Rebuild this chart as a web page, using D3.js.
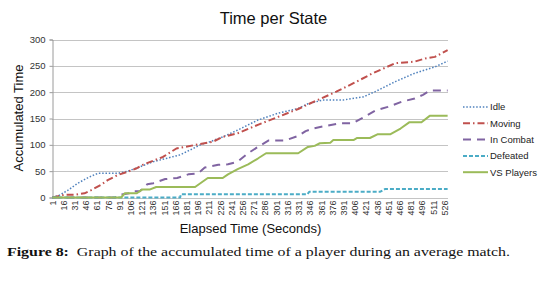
<!DOCTYPE html>
<html>
<head>
<meta charset="utf-8">
<script src="https://cdn.jsdelivr.net/npm/d3@7"></script>
<style>
  body { margin: 0; background: #fff; }
  text { font-family: Arial, "Liberation Sans", sans-serif; }
</style>
</head>
<body>
<div id="chart"></div>
<script>
// values, [elapsed seconds, accumulated time]
const idle = [[1,0],[10,4],[22,14],[35,27],[49,38],[62,46],[89,46],[102,50],[116,57],[136,68],[153,74],[172,81],[185,90],[199,100],[212,106],[229,115],[249,128],[276,147],[303,160],[330,169],[343,178],[363,185],[390,185],[417,191],[433,201],[460,220],[486,236],[513,248],[530,259]];
const moving = [[1,0],[17,5],[31,5],[44,8],[53,14],[66,24],[75,33],[89,43],[102,49],[113,55],[122,62],[149,77],[167,93],[193,100],[216,106],[229,115],[249,122],[276,138],[303,153],[330,168],[345,178],[381,201],[404,217],[430,236],[460,255],[486,258],[500,264],[513,267],[530,280]];
const inCombat = [[1,0],[85,0],[90,5],[104,8],[108,12],[118,12],[122,17],[128,25],[136,27],[152,35],[168,37],[183,44],[196,46],[205,57],[223,62],[236,63],[249,68],[263,84],[276,96],[290,108],[312,108],[330,117],[340,126],[350,131],[367,136],[386,141],[403,141],[417,152],[433,165],[450,172],[469,182],[486,188],[497,195],[506,203],[530,203]];
const defeated = [[1,0],[172,0],[173,6],[342,6],[345,11],[440,11],[446,16],[530,16]];
const vsPlayers = [[1,0],[93,0],[98,8],[114,8],[121,15],[131,15],[140,20],[192,20],[209,37],[229,37],[236,44],[249,54],[263,63],[276,74],[287,84],[330,84],[343,96],[352,98],[359,103],[373,104],[377,109],[404,109],[409,113],[426,113],[436,120],[453,120],[467,131],[479,143],[495,143],[506,155],[530,155]];

const seriesNames = ['Idle', 'Moving', 'In Combat', 'Defeated', 'VS Players'];
const xTickValues = d3.range(1, 527, 15);
const yTickValues = [0, 50, 100, 150, 200, 250, 300];

const seriesStyle = {
  'Idle':       { color: '#4F81BD', width: 1.5, dash: '1.5,1.8' },
  'Moving':     { color: '#C0504D', width: 2,   dash: '7,3,1.5,3' },
  'In Combat':  { color: '#8064A2', width: 2,   dash: '8,6' },
  'Defeated':   { color: '#4BACC6', width: 2,   dash: '4,2' },
  'VS Players': { color: '#9BBB59', width: 2,   dash: null },
};

const series = [idle, moving, inCombat, defeated, vsPlayers]
  .map((values, i) => ({ name: seriesNames[i], values }));

// ------------------------------------------------------------------------
// SIZE
// ------------------------------------------------------------------------
const svgWidth = 547;
const svgHeight = 284;
const leftMargin = 52;
const topMargin = 39.5;
const graphWidth = 396;
const graphHeight = 158;

const svg = d3.select('#chart').append('svg')
  .attr('width', svgWidth)
  .attr('height', svgHeight);

const xScale = d3.scaleLinear()
  .domain([0.5, 530.5])
  .range([leftMargin, leftMargin + graphWidth]);

const yScale = d3.scaleLinear()
  .domain([0, 300])
  .range([topMargin + graphHeight, topMargin]);

// ------------------------------------------------------------------------
// GRID + Y AXIS
// ------------------------------------------------------------------------
svg.append('g')
  .selectAll('line')
  .data(yTickValues)
  .join('line')
    .attr('x1', leftMargin)
    .attr('x2', leftMargin + graphWidth)
    .attr('y1', d => Math.round(yScale(d)) + 0.5)
    .attr('y2', d => Math.round(yScale(d)) + 0.5)
    .attr('stroke', '#c4c4c4')
    .attr('stroke-width', 1);

const yAxis = svg.append('g')
  .attr('transform', `translate(${leftMargin + 0.5},0)`)
  .call(d3.axisLeft(yScale).tickValues(yTickValues).tickSize(3).tickPadding(4));
yAxis.select('.domain').attr('stroke', '#9a9a9a');
yAxis.selectAll('.tick line').attr('stroke', '#9a9a9a');
yAxis.selectAll('.tick text')
  .attr('font-size', 9.5)
  .attr('font-family', 'Arial, "Liberation Sans", sans-serif')
  .attr('fill', '#333');

// ------------------------------------------------------------------------
// X AXIS (rotated labels only)
// ------------------------------------------------------------------------
svg.append('g')
  .selectAll('text')
  .data(xTickValues)
  .join('text')
    .attr('transform', d => `translate(${xScale(d)},${topMargin + graphHeight + 3}) rotate(-90)`)
    .attr('text-anchor', 'end')
    .attr('dy', '0.35em')
    .attr('font-size', 9)
    .attr('fill', '#333')
    .text(d => d);

// ------------------------------------------------------------------------
// LINES
// ------------------------------------------------------------------------
const line = d3.line()
  .x(d => xScale(d[0]))
  .y(d => yScale(d[1]));

svg.append('g')
  .selectAll('path')
  .data(series)
  .join('path')
    .attr('fill', 'none')
    .attr('stroke', d => seriesStyle[d.name].color)
    .attr('stroke-width', d => seriesStyle[d.name].width)
    .attr('stroke-dasharray', d => seriesStyle[d.name].dash)
    .attr('stroke-linejoin', 'round')
    .attr('d', d => line(d.values));

// ------------------------------------------------------------------------
// LEGEND
// ------------------------------------------------------------------------
const legend = svg.append('g')
  .attr('transform', 'translate(463,107)')
  .selectAll('g')
  .data(series)
  .join('g')
    .attr('transform', (d, i) => `translate(0,${i * 16.3})`);
legend.append('line')
  .attr('x1', 0)
  .attr('x2', 25)
  .attr('stroke', d => seriesStyle[d.name].color)
  .attr('stroke-width', d => seriesStyle[d.name].width)
  .attr('stroke-dasharray', d => seriesStyle[d.name].dash);
legend.append('text')
  .attr('x', 27)
  .attr('dy', '0.35em')
  .attr('font-size', 9.5)
  .attr('fill', '#222')
  .text(d => d.name);

// ------------------------------------------------------------------------
// TITLES
// ------------------------------------------------------------------------
svg.append('text')
  .attr('x', 273.5)
  .attr('y', 24)
  .attr('text-anchor', 'middle')
  .attr('font-size', 16.5)
  .attr('fill', '#111')
  .text('Time per State');

svg.append('text')
  .attr('transform', 'translate(23,118) rotate(-90)')
  .attr('text-anchor', 'middle')
  .attr('font-size', 13)
  .attr('fill', '#111')
  .text('Accumulated Time');

svg.append('text')
  .attr('x', 250.5)
  .attr('y', 233)
  .attr('text-anchor', 'middle')
  .attr('font-size', 13)
  .attr('fill', '#111')
  .text('Elapsed Time (Seconds)');

// ------------------------------------------------------------------------
// CAPTION
// ------------------------------------------------------------------------
const caption = svg.append('text')
  .attr('x', 7)
  .attr('y', 256)
  .attr('font-size', 11.5)
  .attr('fill', '#111')
  .attr('textLength', 503)
  .attr('lengthAdjust', 'spacingAndGlyphs')
  .style('font-family', '"Liberation Serif", "DejaVu Serif", serif');
caption.append('tspan')
  .attr('font-weight', 'bold')
  .text('Figure 8:');
caption.append('tspan')
  .text('\u2002Graph of the accumulated time of a player during an average match.');
</script>
</body>
</html>
